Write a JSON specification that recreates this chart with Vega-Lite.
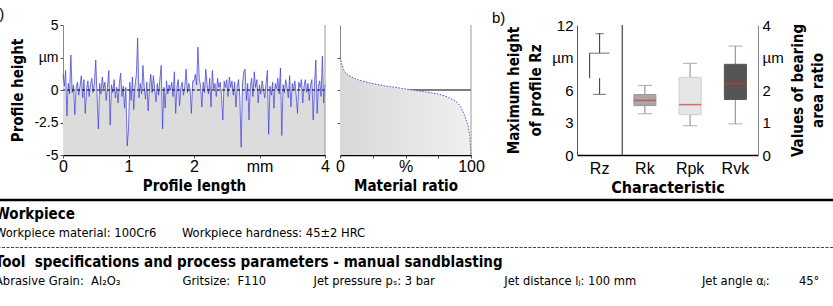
{
  "$schema": "https://vega.github.io/schema/vega-lite/v6.json",
  "padding": {"left": -9, "top": 7, "right": 0, "bottom": 0},
  "background": "white",
  "config": {
    "view": {"stroke": null},
    "font": "Liberation Sans",
    "axis": {"grid": false, "labelOverlap": false, "labelFont": "Liberation Sans", "labelColor": "black", "titleFont": "DejaVu Sans Condensed, Liberation Sans", "titleFontWeight": "bold", "titleColor": "black", "tickColor": "#555", "domainColor": "#777"},
    "title": {"font": "Liberation Sans", "fontWeight": "normal", "fontSize": 15, "color": "black"}
  },
  "datasets": {
    "profile": [
      {"x":0,"h":1.2},{"x":0.02,"h":0.3},{"x":0.04,"h":1.5},{"x":0.06,"h":-2.0},{"x":0.08,"h":0.5},{"x":0.1,"h":-0.3},{"x":0.12,"h":2.7},{"x":0.14,"h":-0.2},{"x":0.16,"h":0.4},{"x":0.18,"h":-1.9},
      {"x":0.2,"h":0.2},{"x":0.22,"h":0.6},{"x":0.24,"h":-0.4},{"x":0.26,"h":0.3},{"x":0.28,"h":1.1},{"x":0.3,"h":-0.6},{"x":0.32,"h":0.8},{"x":0.34,"h":-1.8},{"x":0.36,"h":0.1},{"x":0.38,"h":0.7},
      {"x":0.4,"h":-0.5},{"x":0.42,"h":0.4},{"x":0.44,"h":0.9},{"x":0.46,"h":-0.2},{"x":0.48,"h":0.6},{"x":0.5,"h":2.3},{"x":0.52,"h":-0.4},{"x":0.54,"h":-3.0},{"x":0.56,"h":0.5},{"x":0.58,"h":-0.3},
      {"x":0.6,"h":1.0},{"x":0.62,"h":0.1},{"x":0.64,"h":0.6},{"x":0.66,"h":-0.8},{"x":0.68,"h":0.3},{"x":0.7,"h":1.5},{"x":0.72,"h":-2.7},{"x":0.74,"h":0.4},{"x":0.76,"h":-0.2},{"x":0.78,"h":0.8},
      {"x":0.8,"h":-0.6},{"x":0.82,"h":0.2},{"x":0.84,"h":-1.0},{"x":0.86,"h":0.5},{"x":0.88,"h":1.3},{"x":0.9,"h":-0.5},{"x":0.92,"h":0.3},{"x":0.94,"h":-1.4},{"x":0.96,"h":0.2},{"x":0.98,"h":-4.3},
      {"x":1.0,"h":-3.0},{"x":1.02,"h":0.6},{"x":1.04,"h":-0.8},{"x":1.06,"h":1.0},{"x":1.08,"h":-1.5},{"x":1.1,"h":0.4},{"x":1.12,"h":1.2},{"x":1.14,"h":4.0},{"x":1.16,"h":-0.6},{"x":1.18,"h":0.5},
      {"x":1.2,"h":-0.3},{"x":1.22,"h":1.9},{"x":1.24,"h":0.2},{"x":1.26,"h":-0.7},{"x":1.28,"h":0.6},{"x":1.3,"h":-1.6},{"x":1.32,"h":0.3},{"x":1.34,"h":1.2},{"x":1.36,"h":-0.2},{"x":1.38,"h":1.1},
      {"x":1.4,"h":0.1},{"x":1.42,"h":-0.9},{"x":1.44,"h":0.5},{"x":1.46,"h":-0.4},{"x":1.48,"h":0.9},{"x":1.5,"h":1.9},{"x":1.52,"h":-3.0},{"x":1.54,"h":0.2},{"x":1.56,"h":-1.4},{"x":1.58,"h":0.7},
      {"x":1.6,"h":-0.3},{"x":1.62,"h":0.4},{"x":1.64,"h":0.0},{"x":1.66,"h":0.6},{"x":1.68,"h":-0.5},{"x":1.7,"h":1.4},{"x":1.72,"h":-1.8},{"x":1.74,"h":0.3},{"x":1.76,"h":0.8},{"x":1.78,"h":-1.2},
      {"x":1.8,"h":0.2},{"x":1.82,"h":0.6},{"x":1.84,"h":-0.4},{"x":1.86,"h":0.3},{"x":1.88,"h":1.6},{"x":1.9,"h":-0.2},{"x":1.92,"h":0.5},{"x":1.94,"h":0.1},{"x":1.96,"h":-1.8},{"x":1.98,"h":0.7},
      {"x":2.0,"h":0.7},{"x":2.02,"h":1.2},{"x":2.04,"h":0.4},{"x":2.06,"h":3.3},{"x":2.08,"h":0.9},{"x":2.1,"h":0.3},{"x":2.12,"h":-1.3},{"x":2.14,"h":0.6},{"x":2.16,"h":-0.2},{"x":2.18,"h":1.6},
      {"x":2.2,"h":0.4},{"x":2.22,"h":-0.3},{"x":2.24,"h":0.9},{"x":2.26,"h":-1.3},{"x":2.28,"h":1.5},{"x":2.3,"h":0.1},{"x":2.32,"h":0.5},{"x":2.34,"h":-0.5},{"x":2.36,"h":0.9},{"x":2.38,"h":0.2},
      {"x":2.4,"h":0.6},{"x":2.42,"h":-0.4},{"x":2.44,"h":-2.3},{"x":2.46,"h":0.7},{"x":2.48,"h":0.2},{"x":2.5,"h":0.8},{"x":2.52,"h":-0.5},{"x":2.54,"h":1.0},{"x":2.56,"h":0.2},{"x":2.58,"h":0.7},
      {"x":2.6,"h":-0.4},{"x":2.62,"h":0.6},{"x":2.64,"h":-1.3},{"x":2.66,"h":0.3},{"x":2.68,"h":0.8},{"x":2.7,"h":-0.6},{"x":2.72,"h":-4.4},{"x":2.74,"h":0.4},{"x":2.76,"h":1.4},{"x":2.78,"h":1.6},
      {"x":2.8,"h":-0.8},{"x":2.82,"h":0.5},{"x":2.84,"h":-2.3},{"x":2.86,"h":0.3},{"x":2.88,"h":0.9},{"x":2.9,"h":-0.5},{"x":2.92,"h":1.4},{"x":2.94,"h":0.2},{"x":2.96,"h":0.8},{"x":2.98,"h":-1.0},
      {"x":3.0,"h":0.4},{"x":3.02,"h":-0.3},{"x":3.04,"h":0.7},{"x":3.06,"h":0.1},{"x":3.08,"h":-0.6},{"x":3.1,"h":0.5},{"x":3.12,"h":1.5},{"x":3.14,"h":-3.4},{"x":3.16,"h":0.3},{"x":3.18,"h":-0.4},
      {"x":3.2,"h":0.6},{"x":3.22,"h":-1.4},{"x":3.24,"h":0.5},{"x":3.26,"h":0.1},{"x":3.28,"h":0.9},{"x":3.3,"h":-0.3},{"x":3.32,"h":1.7},{"x":3.34,"h":-3.5},{"x":3.36,"h":0.4},{"x":3.38,"h":-0.2},
      {"x":3.4,"h":0.8},{"x":3.42,"h":0.2},{"x":3.44,"h":-0.6},{"x":3.46,"h":1.1},{"x":3.48,"h":-1.3},{"x":3.5,"h":0.5},{"x":3.52,"h":0.0},{"x":3.54,"h":0.7},{"x":3.56,"h":-0.4},{"x":3.58,"h":-1.8},
      {"x":3.6,"h":0.6},{"x":3.62,"h":0.2},{"x":3.64,"h":0.8},{"x":3.66,"h":-1.0},{"x":3.68,"h":0.3},{"x":3.7,"h":0.8},{"x":3.72,"h":-0.2},{"x":3.74,"h":0.5},{"x":3.76,"h":-0.8},{"x":3.78,"h":0.4},
      {"x":3.8,"h":0.8},{"x":3.82,"h":-2.3},{"x":3.84,"h":0.5},{"x":3.86,"h":2.3},{"x":3.88,"h":-1.8},{"x":3.9,"h":0.3},{"x":3.92,"h":0.7},{"x":3.94,"h":-0.5},{"x":3.96,"h":2.6},{"x":3.98,"h":-1.0},
      {"x":4.0,"h":0.4}
    ],
    "abbott": [
      {"p":0,"h":2.5},{"p":1.3,"h":2.0},{"p":2.6,"h":1.6},{"p":4,"h":1.35},{"p":6.4,"h":1.14},{"p":10,"h":0.95},{"p":14,"h":0.78},{"p":19,"h":0.64},{"p":24,"h":0.52},{"p":29,"h":0.42},
      {"p":34,"h":0.32},{"p":39,"h":0.25},{"p":44.6,"h":0.17},{"p":50,"h":0.08},{"p":55,"h":0.0},{"p":60,"h":-0.07},{"p":65,"h":-0.14},{"p":70,"h":-0.22},{"p":75.3,"h":-0.32},{"p":80,"h":-0.45},
      {"p":83,"h":-0.58},{"p":86.5,"h":-0.75},{"p":89.3,"h":-0.96},{"p":91.5,"h":-1.2},{"p":93.1,"h":-1.5},{"p":94.5,"h":-1.8},{"p":95.7,"h":-2.1},{"p":97.7,"h":-2.75},{"p":99,"h":-3.5},{"p":99.7,"h":-4.55},{"p":100,"h":-5}
    ],
    "rz": [{"char":"Rz","low":5.6,"q1":7.1,"q3":9.4,"high":11.2}],
    "boxes": [
      {"char":"Rk","min":1.27,"q1":1.52,"med":1.68,"q3":1.86,"max":2.14},
      {"char":"Rpk","min":0.9,"q1":1.24,"med":1.55,"q3":2.39,"max":2.82},
      {"char":"Rvk","min":0.96,"q1":1.71,"med":2.2,"q3":2.79,"max":3.35}
    ],
    "table": [
      {"section":"Workpiece","kind":"head","text":"Workpiece"},
      {"section":"Workpiece","kind":"body","text":"Workpiece material: 100Cr6\u00a0\u00a0\u00a0\u00a0\u00a0\u00a0\u00a0Workpiece hardness: 45±2 HRC"},
      {"section":"Tool","kind":"head","text":"Tool\u00a0 specifications and process parameters - manual sandblasting"},
      {"section":"Tool","kind":"body","text":"Abrasive Grain:\u00a0\u00a0Al₂O₃\u00a0\u00a0\u00a0\u00a0\u00a0\u00a0\u00a0\u00a0\u00a0\u00a0\u00a0\u00a0\u00a0\u00a0\u00a0\u00a0\u00a0Gritsize:\u00a0\u00a0F110\u00a0\u00a0\u00a0\u00a0\u00a0\u00a0\u00a0\u00a0\u00a0\u00a0\u00a0\u00a0\u00a0Jet pressure pₛ:\u00a03 bar\u00a0\u00a0\u00a0\u00a0\u00a0\u00a0\u00a0\u00a0\u00a0\u00a0\u00a0\u00a0\u00a0\u00a0\u00a0\u00a0\u00a0\u00a0\u00a0Jet distance lⱼ:\u00a0100 mm\u00a0\u00a0\u00a0\u00a0\u00a0\u00a0\u00a0\u00a0\u00a0\u00a0\u00a0\u00a0\u00a0\u00a0\u00a0\u00a0\u00a0\u00a0Jet angle αⱼ:\u00a0\u00a0\u00a0\u00a0\u00a0\u00a0\u00a0\u00a045°"}
    ],
    "one": [{}]
  },
  "spacing": 3,
  "vconcat": [
    {
      "bounds": "flush",
      "spacing": 15,
      "hconcat": [
        {"width": 53, "height": 130, "data": {"values": []}, "mark": "point", "encoding": {}},
        {
          "width": 262, "height": 130,
          "title": {"text": "a)", "anchor": "start", "frame": "group", "dx": -72, "dy": 16, "baseline": "alphabetic", "offset": 0},
          "layer": [
            {"data": {"name": "profile"}, "mark": {"type": "area", "color": "#dcdcdc"},
             "encoding": {
               "x": {"field": "x", "type": "quantitative", "scale": {"domain": [0, 4], "nice": false},
                     "axis": {"values": [0, 1, 2, 3, 4], "tickCount": 20, "labelExpr": "datum.value==3?'mm':''+datum.value", "title": "Profile length", "labelFontSize": 16, "tickSize": 3, "labelPadding": 0, "domainColor": "black", "domainWidth": 1.5, "labelFlush": false, "labelOverlap": false, "titleFontSize": 15, "titlePadding": 4}},
               "y": {"field": "h", "type": "quantitative", "scale": {"domain": [-5, 5], "nice": false},
                     "axis": {"values": [-5, -2.5, 0, 2.5, 5], "tickCount": 20, "labelExpr": "datum.value==2.5?'µm':''+datum.value", "title": "Profile height", "labelFontSize": 14, "tickSize": 3, "labelPadding": 2, "labelOverlap": false, "labelFlush": false, "domainColor": "#888", "titleFontSize": 15, "titlePadding": 8}},
               "y2": {"datum": -5}}},
            {"data": {"name": "profile"}, "mark": {"type": "line", "color": "#3838dd", "strokeWidth": 0.7},
             "encoding": {"x": {"field": "x", "type": "quantitative"}, "y": {"field": "h", "type": "quantitative"}}},
            {"data": {"name": "one"}, "mark": {"type": "rule", "color": "black", "strokeDash": [3, 2], "strokeWidth": 1}, "encoding": {"y": {"datum": 0}}},
            {"data": {"name": "one"}, "mark": {"type": "rule", "color": "#999", "strokeWidth": 1}, "encoding": {"x": {"datum": 4}}}
          ]
        },
        {
          "width": 131, "height": 130,
          "layer": [
            {"data": {"name": "one"}, "mark": {"type": "rule", "color": "black", "strokeWidth": 1.2}, "encoding": {"y": {"datum": 0, "type": "quantitative", "scale": {"domain": [-5, 5], "nice": false}}}},
            {"data": {"name": "abbott"}, "mark": {"type": "area", "color": {"gradient": "linear", "x1": 0, "x2": 1, "y1": 0, "y2": 0, "stops": [{"offset": 0, "color": "#d8d8d8"}, {"offset": 1, "color": "#f0f0f0"}]}},
             "encoding": {
               "x": {"field": "p", "type": "quantitative", "scale": {"domain": [0, 100], "nice": false},
                     "axis": {"values": [0, 25, 50, 75, 100], "tickCount": 20, "labelExpr": "datum.value==0?'0':datum.value==50?'%':datum.value==100?'100':''", "title": "Material ratio", "labelFontSize": 16, "tickSize": 3, "labelPadding": 0, "domainColor": "black", "domainWidth": 1.5, "labelFlush": false, "labelOverlap": false, "titleFontSize": 15, "titlePadding": 4}},
               "y": {"field": "h", "type": "quantitative", "scale": {"domain": [-5, 5], "nice": false},
                     "axis": {"values": [-2.5, 0, 2.5], "tickCount": 20, "labels": false, "title": null, "tickSize": 3, "domainColor": "#888"}},
               "y2": {"datum": -5}}},
            {"data": {"name": "abbott"}, "mark": {"type": "line", "color": "#5050dd", "strokeWidth": 1, "strokeDash": [1.5, 1.5]},
             "encoding": {"x": {"field": "p", "type": "quantitative"}, "y": {"field": "h", "type": "quantitative"}}},
            {"data": {"name": "one"}, "mark": {"type": "rule", "color": "#999", "strokeWidth": 1}, "encoding": {"x": {"datum": 100}}}
          ]
        },
        {"width": 76, "height": 130, "data": {"values": []}, "mark": "point", "encoding": {}},
        {
          "width": 181, "height": 130,
          "title": {"text": "b)", "anchor": "start", "frame": "group", "dx": -85, "dy": 19.5, "baseline": "alphabetic", "offset": 0},
          "encoding": {
            "x": {"field": "char", "type": "nominal", "sort": null, "scale": {"domain": ["Rz", "Rk", "Rpk", "Rvk"], "paddingInner": 0, "paddingOuter": 0},
                  "axis": {"title": "Characteristic", "labelFontSize": 16, "labelAngle": 0, "ticks": false, "domainColor": "black", "domainWidth": 1.5, "labelPadding": 5, "titleFontSize": 16, "titlePadding": 3}}
          },
          "layer": [
            {
              "data": {"name": "rz"},
              "layer": [
                {"mark": {"type": "rule", "color": "#333"},
                 "encoding": {"y": {"field": "q3", "type": "quantitative", "scale": {"domain": [0, 12], "nice": false},
                                    "axis": {"values": [0, 3, 6, 9, 12], "tickCount": 20, "labelExpr": "datum.value==9?'µm':''+datum.value", "title": ["Maximum height", "of profile Rz"], "labelFontSize": 15, "ticks": false, "labelPadding": 4, "labelOverlap": false, "labelFlush": false, "domainColor": "#555", "titleFontSize": 15, "titleLineHeight": 22, "titlePadding": 8}},
                              "y2": {"field": "high"}}},
                {"mark": {"type": "tick", "color": "#333", "size": 8, "thickness": 1}, "encoding": {"y": {"field": "high", "type": "quantitative"}}},
                {"mark": {"type": "tick", "color": "#333", "size": 20, "thickness": 1}, "encoding": {"y": {"field": "q3", "type": "quantitative"}}},
                {"mark": {"type": "rule", "color": "#333", "xOffset": -10}, "encoding": {"y": {"field": "q1", "type": "quantitative"}, "y2": {"field": "q3"}}},
                {"mark": {"type": "rule", "color": "#333"}, "encoding": {"y": {"field": "low", "type": "quantitative"}, "y2": {"field": "q1"}}},
                {"mark": {"type": "tick", "color": "#333", "size": 13, "thickness": 1}, "encoding": {"y": {"field": "low", "type": "quantitative"}}}
              ]
            },
            {
              "data": {"name": "boxes"},
              "layer": [
                {"mark": {"type": "rule", "color": "#9a9a9a", "strokeWidth": 1.2},
                 "encoding": {"y": {"field": "min", "type": "quantitative", "scale": {"domain": [0, 4], "nice": false},
                                    "axis": {"orient": "right", "values": [0, 1, 2, 3, 4], "tickCount": 20, "labelExpr": "datum.value==3?'µm':''+datum.value", "title": ["Values of  bearing", "area ratio"], "titleAngle": 270, "labelFontSize": 15, "ticks": false, "labelPadding": 4, "labelOverlap": false, "labelFlush": false, "domainColor": "#888", "titleFontSize": 15, "titleLineHeight": 20, "titlePadding": 2}},
                              "y2": {"field": "max"}}},
                {"mark": {"type": "tick", "color": "#9a9a9a", "size": 14, "thickness": 1.2}, "encoding": {"y": {"field": "max", "type": "quantitative"}}},
                {"mark": {"type": "tick", "color": "#9a9a9a", "size": 14, "thickness": 1.2}, "encoding": {"y": {"field": "min", "type": "quantitative"}}},
                {"mark": {"type": "bar", "size": 22, "strokeWidth": 1},
                 "encoding": {"y": {"field": "q1", "type": "quantitative"}, "y2": {"field": "q3"},
                              "fill": {"field": "char", "type": "nominal", "scale": {"domain": ["Rk", "Rpk", "Rvk"], "range": ["#a8a8a8", "#e6e6e6", "#555555"]}, "legend": null},
                              "stroke": {"field": "char", "type": "nominal", "scale": {"domain": ["Rk", "Rpk", "Rvk"], "range": ["#999999", "#cccccc", "#555555"]}, "legend": null}}},
                {"mark": {"type": "tick", "color": "#e03030", "size": 22, "thickness": 1.5}, "encoding": {"y": {"field": "med", "type": "quantitative"}}}
              ]
            },
            {"data": {"name": "one"}, "mark": {"type": "rule", "color": "#444", "strokeWidth": 1.2}, "encoding": {"x": {"datum": "Rk", "type": "nominal", "bandPosition": 0}}}
          ],
          "resolve": {"scale": {"y": "independent", "fill": "independent", "stroke": "independent"}, "axis": {"y": "independent"}}
        }
      ]
    },
    {
      "width": 838, "height": 95,
      "data": {"name": "table"},
      "layer": [
        {"transform": [{"filter": "datum.kind=='head'"}],
         "mark": {"type": "text", "align": "left", "baseline": "middle", "font": "DejaVu Sans Condensed, Liberation Sans", "fontSize": 15, "fontWeight": "bold", "color": "black"},
         "encoding": {"x": {"value": 0}, "text": {"field": "text"},
                      "y": {"field": "section", "type": "nominal", "scale": {"domain": ["Workpiece", "Tool"], "paddingInner": 0, "paddingOuter": 0}, "axis": null},
                      "yOffset": {"field": "kind", "type": "nominal", "scale": {"type": "point", "domain": ["head", "body"], "padding": 0.718}}}},
        {"transform": [{"filter": "datum.kind=='body'"}],
         "mark": {"type": "text", "align": "left", "baseline": "middle", "font": "DejaVu Sans Condensed, Liberation Sans", "fontSize": 12.8, "color": "black"},
         "encoding": {"x": {"value": 0}, "text": {"field": "text"},
                      "y": {"field": "section", "type": "nominal"},
                      "yOffset": {"field": "kind", "type": "nominal"}}},
        {"data": {"name": "one"}, "mark": {"type": "rule", "color": "black", "strokeWidth": 2.5}, "encoding": {"y": {"datum": "Workpiece", "type": "nominal", "bandPosition": 0}}},
        {"data": {"name": "one"}, "mark": {"type": "rule", "color": "#444", "strokeWidth": 1, "strokeDash": [3, 1.5]}, "encoding": {"y": {"datum": "Tool", "type": "nominal", "bandPosition": 0}}}
      ]
    }
  ]
}
